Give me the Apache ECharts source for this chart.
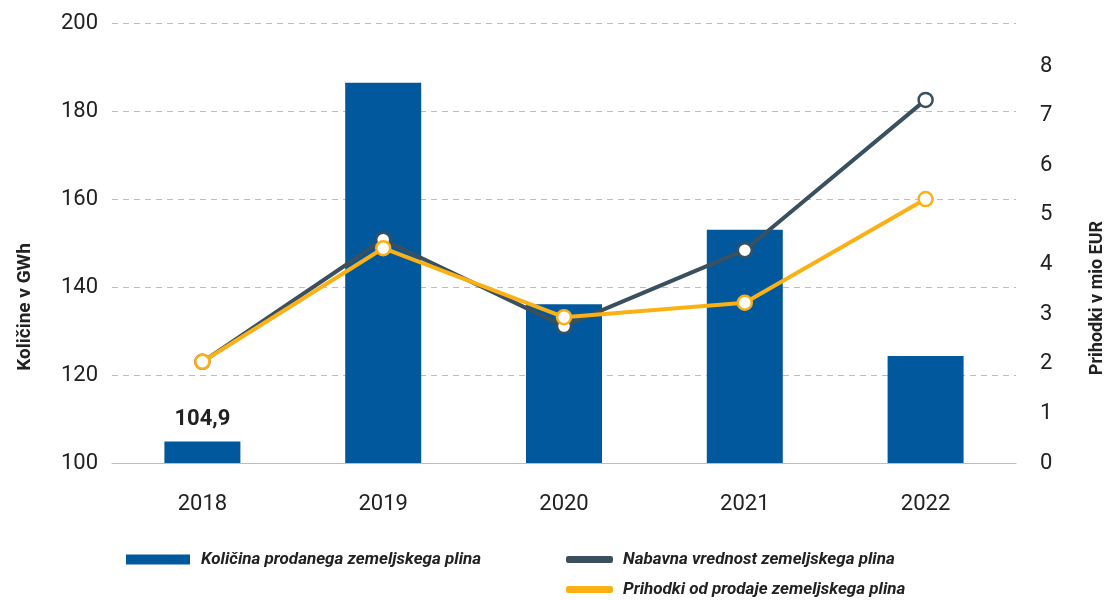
<!DOCTYPE html>
<html>
<head>
<meta charset="utf-8">
<script src="https://cdn.jsdelivr.net/npm/echarts@6/dist/echarts.min.js"></script>
<style>
html,body{margin:0;padding:0;background:#fff;}
#chart{width:1110px;height:600px;}
</style>
</head>
<body>
<div id="chart"></div>
<script>
const categories = ['2018', '2019', '2020', '2021', '2022'];
const kolicina = [104.9, 186.4, 136.1, 153.0, 124.3];
const nabavna = [2.04, 4.50, 2.76, 4.29, 7.32];
const prihodki = [2.04, 4.33, 2.94, 3.23, 5.32];
const leftTicks = [100, 120, 140, 160, 180, 200];
const rightTicks = [0, 1, 2, 3, 4, 5, 6, 7, 8];

const names = {
  bar: 'Količina prodanega zemeljskega plina',
  dark: 'Nabavna vrednost zemeljskega plina',
  orange: 'Prihodki od prodaje zemeljskega plina'
};
const colors = { bar: '#02589c', dark: '#3a505e', orange: '#fbb116' };
const FONT = 'Roboto, "Noto Sans", sans-serif';

const chart = echarts.init(document.getElementById('chart'), null, { renderer: 'canvas' });

const lineSeries = (name, data, color, z) => ({
  name, type: 'line', yAxisIndex: 1, data, z,
  symbol: 'circle', symbolSize: 14,
  lineStyle: { color, width: 4 },
  itemStyle: { color: '#fff', borderColor: color, borderWidth: 2.5 },
  emphasis: { disabled: true }
});

const legendText = { fontFamily: FONT, fontSize: 17, fontStyle: 'italic', fontWeight: 'bold', color: '#222', padding: [0, 0, 0, 6] };

chart.setOption({
  animation: false,
  grid: { left: 112, right: 94, top: 23, bottom: 137 },
  legend: [
    {
      left: 126, top: 551, padding: 0,
      data: [{ name: names.bar, icon: 'rect' }],
      itemWidth: 64, itemHeight: 10,
      textStyle: legendText,
      selectedMode: false
    },
    {
      left: 566, top: 551, padding: 0,
      data: [{ name: names.dark, icon: 'roundRect', itemStyle: { color: colors.dark } }],
      itemWidth: 45, itemHeight: 5,
      textStyle: legendText,
      selectedMode: false
    },
    {
      left: 566, top: 581, padding: 0,
      data: [{ name: names.orange, icon: 'roundRect', itemStyle: { color: colors.orange } }],
      itemWidth: 45, itemHeight: 5,
      textStyle: legendText,
      selectedMode: false
    }
  ],
  xAxis: {
    type: 'category', data: categories,
    axisLine: { lineStyle: { color: '#bdbdbd', width: 1 } },
    axisTick: { show: false },
    axisLabel: { fontFamily: FONT, fontSize: 22, color: '#222', margin: 30 }
  },
  yAxis: [
    {
      type: 'value', min: leftTicks[0], max: leftTicks[leftTicks.length - 1], interval: 20,
      axisLine: { show: false }, axisTick: { show: false },
      axisLabel: { fontFamily: FONT, fontSize: 22, color: '#222', margin: 14 },
      splitLine: { lineStyle: { color: '#bdbdbd', type: [6, 5], width: 1 } }
    },
    {
      type: 'value', min: rightTicks[0], max: 8.87, interval: 1,
      axisLine: { show: false }, axisTick: { show: false },
      axisLabel: {
        fontFamily: FONT, fontSize: 22, color: '#222', margin: 24,
        formatter: v => rightTicks.includes(v) ? String(v) : ''
      },
      splitLine: { show: false }
    }
  ],
  series: [
    {
      name: names.bar, type: 'bar', yAxisIndex: 0, barWidth: 76, z: 2,
      itemStyle: { color: colors.bar },
      data: kolicina.map((v, i) => i === 0 ? {
        value: v,
        label: {
          show: true, position: 'top', distance: 11,
          fontFamily: FONT, fontSize: 22, fontWeight: 'bold', color: '#222',
          formatter: p => String(p.value).replace('.', ',')
        }
      } : v),
      emphasis: { disabled: true }
    },
    lineSeries(names.dark, nabavna, colors.dark, 3),
    lineSeries(names.orange, prihodki, colors.orange, 4)
  ],
  graphic: [
    {
      type: 'text', x: 25, y: 307, rotation: Math.PI / 2,
      style: { text: 'Količine v GWh', fontFamily: FONT, fontSize: 19, fontWeight: 'bold', fill: '#222', align: 'center', verticalAlign: 'middle' }
    },
    {
      type: 'text', x: 1097, y: 298, rotation: Math.PI / 2,
      style: { text: 'Prihodki v mio EUR', fontFamily: FONT, fontSize: 18, fontWeight: 'bold', fill: '#222', align: 'center', verticalAlign: 'middle' }
    }
  ]
});
</script>
</body>
</html>
